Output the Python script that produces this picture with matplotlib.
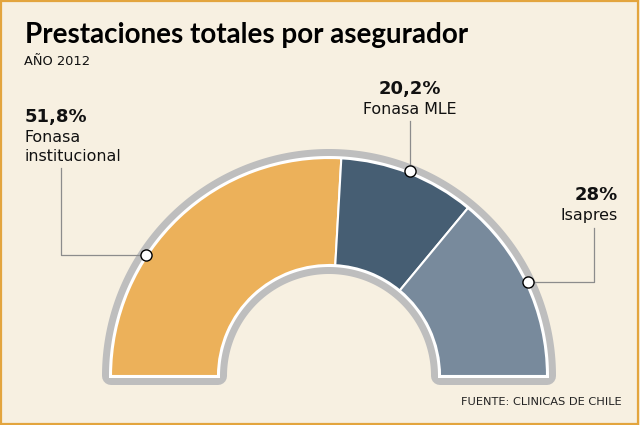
import numpy as np
import matplotlib.pyplot as plt
from matplotlib.patches import Wedge, Polygon

# data
categories = ["Fonasa\ninstitucional", "Fonasa MLE", "Isapres"]
shares = [51.8, 20.2, 28.0]
pct_labels = ["51,8%", "20,2%", "28%"]
colors = ["#ECB15A", "#465E73", "#788A9C"]

title = "Prestaciones totales por asegurador"
subtitle = "AÑO 2012"
source = "FUENTE: CLINICAS DE CHILE"

plt.rcParams["font.family"] = ["DejaVu Sans"]

bg = "#F7F0E1"
cx, cy = 329, 376
r_out, r_in = 218, 111

fig = plt.figure(figsize=(6.4, 4.25), dpi=100, facecolor=bg)
ax = fig.add_axes([0, 0, 1, 1])
ax.set_xlim(0, 640)
ax.set_ylim(425, 0)
ax.set_aspect("equal")
ax.axis("off")

# frame
fig.patches.append(plt.Rectangle((0.002, 0.003), 0.995, 0.994, transform=fig.transFigure,
                                 fill=False, edgecolor="#E3A53E", linewidth=1.6))

# gray rim around the half ring (stroke of the ring outline)
th = np.linspace(0, np.pi, 200)
outer = np.column_stack([cx + r_out * np.cos(th), cy - r_out * np.sin(th)])
inner = np.column_stack([cx + r_in * np.cos(th[::-1]), cy - r_in * np.sin(th[::-1])])
ring = np.vstack([outer, inner])
ax.add_patch(Polygon(ring, closed=True, facecolor="#BEBEBE", edgecolor="#BEBEBE",
                     linewidth=18 * 0.72, joinstyle="round"))
ax.add_patch(Polygon(ring, closed=True, facecolor="white", edgecolor="white",
                     linewidth=4 * 0.72, joinstyle="miter"))

# slices, going clockwise from the left
total = sum(shares)
start = 180.0
for share, col in zip(shares, colors):
    end = start - share / total * 180.0
    # y axis is flipped, so visual angle a -> data angle -a
    ax.add_patch(Wedge((cx, cy), r_out, -start, -end, width=r_out - r_in,
                       facecolor=col, edgecolor="white", linewidth=1.5))
    start = end

# markers and leader lines
marker_ang = [146.5, 68.5, 25.2]
leaders = [[(61, None), (61, 168)], [(None, 121)], [(594, None), (594, 228)]]
for ang, pts in zip(marker_ang, leaders):
    mx = cx + 220 * np.cos(np.radians(ang))
    my = cy - 220 * np.sin(np.radians(ang))
    xs, ys = [mx], [my]
    for px, py in pts:
        xs.append(mx if px is None else px)
        ys.append(my if py is None else py)
    ax.plot(xs, ys, color="#8C8C8C", linewidth=0.9, zorder=3)
    ax.plot(mx, my, "o", markersize=8, markerfacecolor="white",
            markeredgecolor="black", markeredgewidth=1.0, zorder=4)

# labels
lab_pos = [(25, 122, "left"), (410, 94, "center"), (618, 200, "right")]
for (x, y, ha), pct, cat in zip(lab_pos, pct_labels, categories):
    ax.text(x, y, pct, ha=ha, va="baseline", fontsize=13, fontweight="bold", color="#111111")
    for i, line in enumerate(cat.split("\n")):
        ax.text(x, y + 20 + 19 * i, line, ha=ha, va="baseline", fontsize=11.4, color="#111111")

ax.text(25, 43, title, ha="left", va="baseline", fontsize=20, fontweight="bold",
        family=["Lato", "DejaVu Sans"], color="#000000")
ax.text(24, 65, subtitle, ha="left", va="baseline", fontsize=9.4, color="#111111")
ax.text(622, 405, source, ha="right", va="baseline", fontsize=8.2, color="#222222")

plt.savefig("out.png", dpi=100, facecolor=bg)
